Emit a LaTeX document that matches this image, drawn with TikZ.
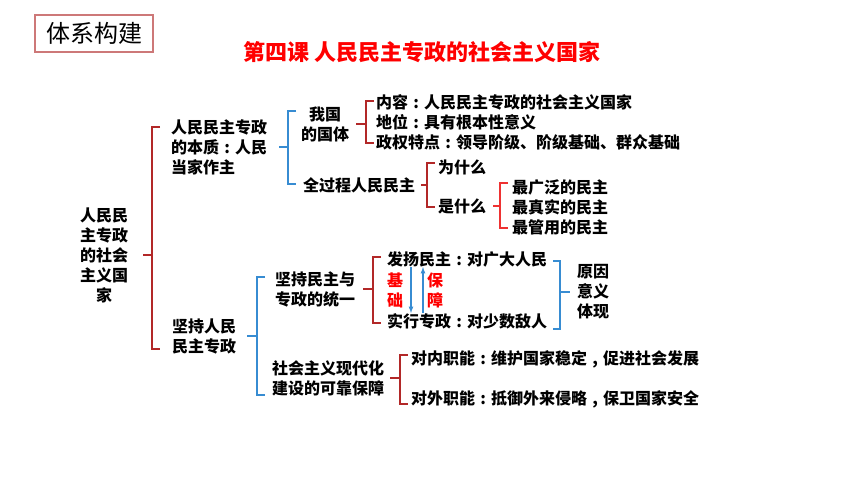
\documentclass[tikz,border=0pt]{standalone}
\usepackage{fontspec}
\usepackage{tikz}
\newfontfamily\cjk{Noto Sans CJK SC}
\definecolor{darkRed}{RGB}{178,40,40}
\definecolor{brightRed}{RGB}{238,50,50}
\definecolor{lineBlue}{RGB}{55,140,210}
\definecolor{boxRed}{RGB}{205,120,120}
\newcommand{\midColon}{\makebox[1em][c]{:}}
\newcommand{\midComma}{\makebox[1em][c]{,}}
% bracket: style, parent node, x, top y, bottom y, length of the middle tick
\newcommand{\branch}[6]{
  \coordinate (brX) at (#3,0);
  \coordinate (brL) at ({#3-#6},0);
  \draw[#1] (#2.center -| brL) -- (#2.center -| brX);
  \draw[#1] ({#3+8},#4) -- (#3,#4) -- (#3,#5) -- ({#3+8},#5);
}

\begin{document}
\begin{tikzpicture}[x=1pt, y=-1pt,
        every node/.style={font={\cjk\bfseries\fontsize{16}{20}\selectfont}, inner sep=0pt},
        item/.style={anchor=west, align=left},
        redLine/.style={darkRed, line width=1.6pt},
        lightLine/.style={brightRed, line width=1.6pt},
        blueLine/.style={lineBlue, line width=1.6pt},
        blueArrow/.style={lineBlue, line width=1.2pt, -latex}]
        \useasboundingbox (0,0) rectangle (860,484);

        \node (topic) [draw=boxRed, line width=1.2pt, minimum width=118pt, minimum height=37pt,
            font={\cjk\fontsize{24}{28}\selectfont}] at (94,33.5) {体系构建};
        \node (lesson) [text=red, font={\cjk\bfseries\fontsize{22}{24}\selectfont}] at (422,52)
            {第四课 人民民主专政的社会主义国家};

        \node (root) [align=center] at (104,255) {人民民\\主专政\\的社会\\主义国\\家};

        % upper half
        \node (essence) [item] at (171,147) {人民民主专政\\的本质\midColon 人民\\当家作主};
        \node (stateSys) [align=center] at (325,124) {我国\\的国体};
        \node (stateItems) [item] at (376,122)
            {内容\midColon 人民民主专政的社会主义国家\\地位\midColon 具有根本性意义\\政权特点\midColon 领导阶级、阶级基础、群众基础};
        \node (wholeDem) [item] at (303,185) {全过程人民民主};
        \node (why) [item] at (438,167) {为什么};
        \node (what) [item] at (438,206) {是什么};
        \node (whatItems) [item] at (512,207) {最广泛的民主\\最真实的民主\\最管用的民主};

        % lower half
        \node (insist) [item] at (172,336) {坚持人民\\民主专政};
        \node (unity) [item] at (275,289) {坚持民主与\\专政的统一};
        \node (guarantee) [item] at (272,378) {社会主义现代化\\建设的可靠保障};
        \node (democracy) [item] at (387,259) {发扬民主\midColon 对广大人民};
        \node (dictator) [item] at (387,321) {实行专政\midColon 对少数敌人};
        \node (base) [text=red, align=center] at (395,290) {基\\础};
        \node (protect) [text=red, align=center] at (435,290) {保\\障};
        \node (reason) [align=center] at (593,292) {原因\\意义\\体现};
        \node (inner) [item] at (411,359) {对内职能\midColon 维护国家稳定\midComma 促进社会发展};
        \node (outer) [item] at (411,399) {对外职能\midColon 抵御外来侵略\midComma 保卫国家安全};

        \branch{redLine}{root}{152}{127}{349}{9}
        \branch{blueLine}{essence}{288}{111}{184}{9}
        \branch{redLine}{stateSys}{366}{101}{143}{10}
        \branch{redLine}{wholeDem}{427}{163}{207}{6}
        \branch{lightLine}{what}{500}{183}{228}{7}
        \branch{blueLine}{insist}{257}{277}{395}{10}
        \branch{redLine}{unity}{373}{257}{323}{10}
        \branch{redLine}{guarantee}{400}{355}{404}{10}

        \coordinate (rightX) at (560,0);
        \draw [blueLine] (553,261) -- (560,261) -- (560,329) -- (553,329);
        \draw [blueLine] (reason.center -| rightX) -- ([xshift=-7pt]reason.west);

        \draw [blueArrow] ([xshift=24pt]democracy.south west) -- ([xshift=24pt]dictator.north west);
        \draw [blueArrow] ([xshift=36pt]dictator.north west) -- ([xshift=36pt]democracy.south west);
    \end{tikzpicture}
\end{document}
